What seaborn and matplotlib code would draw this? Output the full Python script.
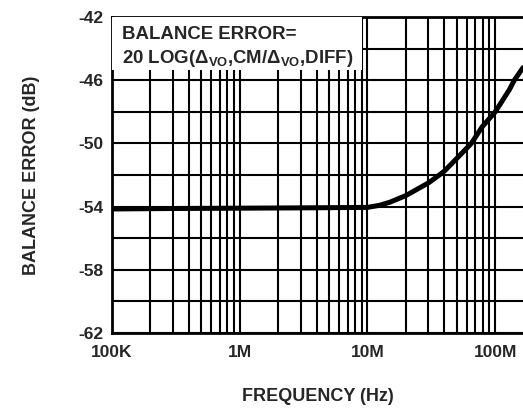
import numpy as np
import pandas as pd
import matplotlib
matplotlib.use('Agg')
import matplotlib.pyplot as plt
from matplotlib.patches import Rectangle
from matplotlib.ticker import FixedLocator, NullFormatter
import seaborn as sns

sns.set_style('white')
plt.rcParams['font.family'] = ['Liberation Sans', 'DejaVu Sans']
plt.rcParams['font.weight'] = 'bold'
plt.rcParams['axes.unicode_minus'] = False
plt.rcParams['mathtext.fontset'] = 'custom'
plt.rcParams['mathtext.rm'] = 'Liberation Sans:bold'
plt.rcParams['mathtext.bf'] = 'Liberation Sans:bold'
plt.rcParams['mathtext.it'] = 'Liberation Sans:bold'

# values
freq_hz = [1e5, 3e5, 1e6, 3e6, 1e7, 1.24e7, 1.5e7, 2e7, 3e7, 3.65e7, 4e7,
           5e7, 6.5e7, 7.9e7, 1e8, 1.29e8, 1.41e8, 1.65e8]
balance_err = [-54.15, -54.12, -54.1, -54.08, -54.05, -53.92, -53.72, -53.3,
               -52.5, -52.0, -51.75, -50.95, -50.0, -48.95, -48.0, -46.6,
               -46.0, -45.2]

x_ticks = [1e5, 1e6, 1e7, 1e8]
x_tick_labels = ['100K', '1M', '10M', '100M']
y_ticks = [-62, -58, -54, -50, -46, -42]

df = pd.DataFrame({'freq': freq_hz, 'err': balance_err})

fig = plt.figure(figsize=(5.23, 4.08), dpi=100)
ax = fig.add_axes([0.214, 0.184, 0.786, 0.774])

sns.lineplot(data=df, x='freq', y='err', color='black', linewidth=3.6,
             ax=ax, zorder=5)

ax.set_xscale('log')
ax.set_xlim(1e5, 1.65e8)
ax.set_ylim(-62, -42)

minor_x = [m * 10 ** e for e in range(5, 9) for m in range(1, 10)]
ax.xaxis.set_major_locator(FixedLocator(x_ticks))
ax.xaxis.set_minor_locator(FixedLocator(minor_x))
ax.xaxis.set_minor_formatter(NullFormatter())
ax.set_xticklabels(x_tick_labels)
ax.yaxis.set_major_locator(FixedLocator(y_ticks))
ax.yaxis.set_minor_locator(FixedLocator(list(range(-62, -41, 2))))

ax.grid(True, which='both', color='black', linewidth=1.5)
ax.tick_params(which='both', length=0)
ax.tick_params(axis='x', pad=9, labelsize=12.5)
ax.tick_params(axis='y', pad=6, labelsize=12.5)

for side in ['left', 'bottom', 'top']:
    ax.spines[side].set_color('black')
    ax.spines[side].set_linewidth(2)
ax.spines['right'].set_visible(False)

# white legend box over the grid
ax.add_patch(Rectangle((0, 0.832), 0.608, 0.168, transform=ax.transAxes,
                       facecolor='white', edgecolor='none', zorder=3))
ax.text(0.024, 0.945, 'BALANCE ERROR=', transform=ax.transAxes,
        fontsize=13.4, fontweight='bold', va='center', ha='left', zorder=6)
ax.text(0.024, 0.87,
        r'20 LOG($\Delta_{\mathrm{VO}}$,CM/$\Delta_{\mathrm{VO}}$,DIFF)',
        transform=ax.transAxes, fontsize=13.4, fontweight='bold',
        va='center', ha='left', zorder=6)

ax.set_xlabel('FREQUENCY (Hz)', fontsize=13, fontweight='bold', labelpad=20)
ax.set_ylabel('BALANCE ERROR (dB)', fontsize=13, fontweight='bold', labelpad=28)

fig.savefig('out.png', dpi=100)
